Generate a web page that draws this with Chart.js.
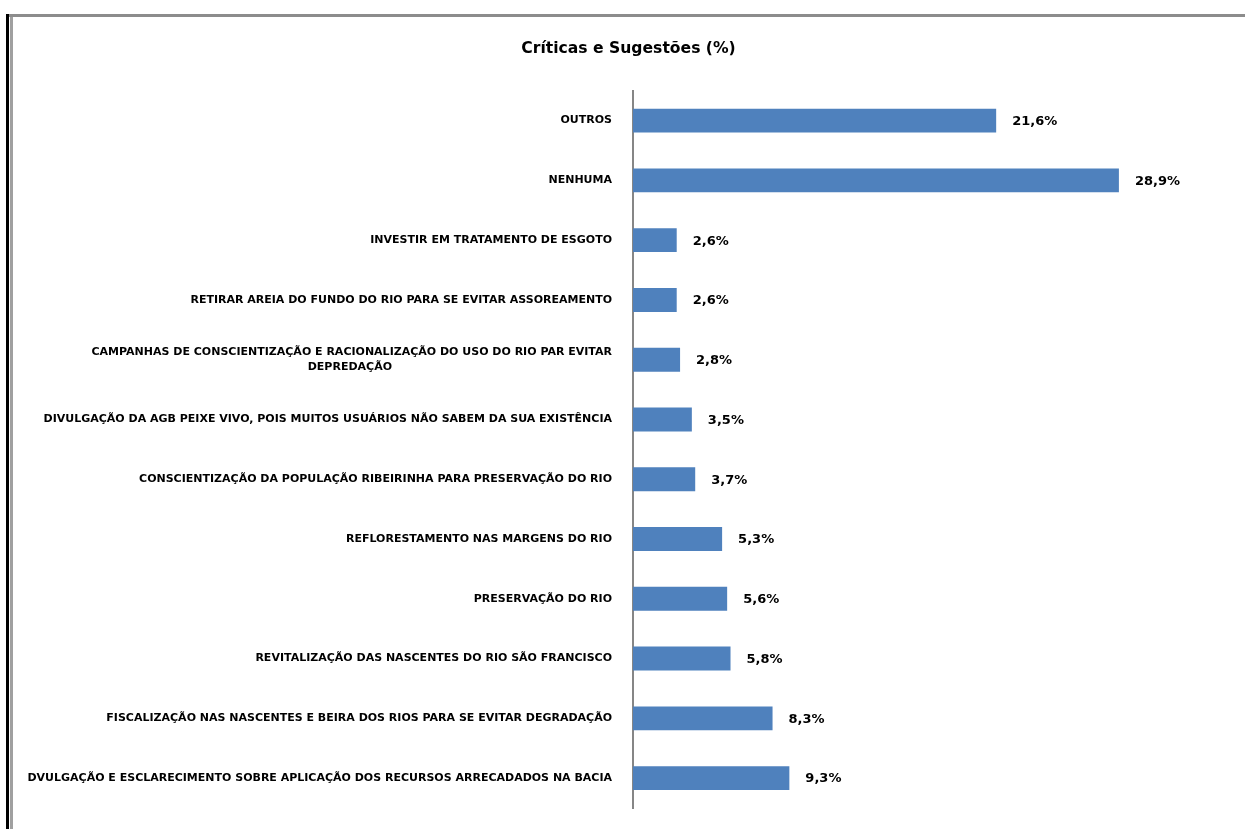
<!DOCTYPE html>
<html>
<head>
<meta charset="utf-8">
<script src="https://cdn.jsdelivr.net/npm/chart.js@4/dist/chart.umd.min.js"></script>
<style>
    html, body { margin: 0; padding: 0; background: #fff; }
    body { width: 1245px; height: 829px; position: relative; overflow: hidden; }
    #frameOuter { position: absolute; left: 6px; top: 14px; width: 1239px; height: 815px; border-left: 3px solid #000; }
    #frameInner { position: absolute; left: 0; top: 0; width: 1236px; height: 815px; border-top: 3px solid #8c8c8c; }
    #frameGray { position: absolute; left: 1px; top: 3px; width: 3px; height: 812px; background: #a0a0a0; }
    #wrap { position: absolute; left: 12px; top: 16px; width: 1233px; height: 813px; }
</style>
</head>
<body>
<div id="frameOuter"><div id="frameInner"></div><div id="frameGray"></div></div>
<div id="wrap"><canvas id="chart" width="1233" height="813"></canvas></div>
<script>
// categories top to bottom, as in the picture
var categorias = [
    'OUTROS',
    'NENHUMA',
    'INVESTIR EM TRATAMENTO DE ESGOTO',
    'RETIRAR AREIA DO FUNDO DO RIO PARA SE EVITAR ASSOREAMENTO',
    ['CAMPANHAS DE CONSCIENTIZAÇÃO E RACIONALIZAÇÃO DO USO DO RIO PAR EVITAR', 'DEPREDAÇÃO'],
    'DIVULGAÇÃO DA AGB PEIXE VIVO, POIS MUITOS USUÁRIOS NÃO SABEM DA SUA EXISTÊNCIA',
    'CONSCIENTIZAÇÃO DA POPULAÇÃO RIBEIRINHA PARA PRESERVAÇÃO DO RIO',
    'REFLORESTAMENTO NAS MARGENS DO RIO',
    'PRESERVAÇÃO DO RIO',
    'REVITALIZAÇÃO DAS NASCENTES DO RIO SÃO FRANCISCO',
    'FISCALIZAÇÃO NAS NASCENTES E BEIRA DOS RIOS PARA SE EVITAR DEGRADAÇÃO',
    'DVULGAÇÃO E ESCLARECIMENTO SOBRE APLICAÇÃO DOS RECURSOS ARRECADADOS NA BACIA'
];
var percentuais = [21.6, 28.9, 2.6, 2.6, 2.8, 3.5, 3.7, 5.3, 5.6, 5.8, 8.3, 9.3];

var fontFamily = '"DejaVu Sans", Arial, sans-serif';
var measureCtx = document.createElement('canvas').getContext('2d');
measureCtx.font = 'bold 11px ' + fontFamily;

// centre the shorter lines of a two line label under the longest one
function centreLines(lines) {
    var widths = lines.map(function (l) { return measureCtx.measureText(l).width; });
    var max = Math.max.apply(null, widths);
    var em = measureCtx.measureText('\u2003').width;
    return lines.map(function (l, i) {
        var n = Math.round((max - widths[i]) / 2 / em);
        return l + '\u2003'.repeat(n);
    });
}

var valueLabels = {
    id: 'valueLabels',
    afterDatasetsDraw: function (chart) {
        var ctx = chart.ctx;
        var meta = chart.getDatasetMeta(0);
        ctx.save();
        ctx.font = 'bold 13px ' + fontFamily;
        ctx.fillStyle = '#000';
        ctx.textAlign = 'left';
        ctx.textBaseline = 'middle';
        meta.data.forEach(function (bar, i) {
            var txt = percentuais[i].toFixed(1).replace('.', ',') + '%';
            ctx.fillText(txt, bar.x + 16, bar.y + 1);
        });
        ctx.restore();
    }
};

new Chart(document.getElementById('chart'), {
    type: 'bar',
    data: {
        labels: categorias,
        datasets: [{
            data: percentuais,
            backgroundColor: '#4F81BD',
            borderWidth: 0,
            barPercentage: 0.8,
            categoryPercentage: 0.5
        }]
    },
    options: {
        indexAxis: 'y',
        responsive: false,
        animation: false,
        devicePixelRatio: 1,
        layout: { padding: { top: 0, bottom: 21, right: 0, left: 0 } },
        plugins: {
            legend: { display: false },
            tooltip: { enabled: false },
            title: {
                display: true,
                text: 'Críticas e Sugestões (%)',
                color: '#000',
                font: { family: fontFamily, size: 15.6, weight: 'bold' },
                padding: { top: 24, bottom: 32 }
            }
        },
        scales: {
            x: {
                display: false,
                min: 0,
                max: 36.4
            },
            y: {
                grid: { display: false, drawTicks: false },
                border: { display: true, color: '#868686', width: 2 },
                afterFit: function (scale) {
                    scale.width = 621;
                    scale.paddingTop = 0;
                    scale.paddingBottom = 0;
                },
                ticks: {
                    autoSkip: false,
                    padding: 21,
                    color: '#000',
                    font: { family: fontFamily, size: 11, weight: 'bold', lineHeight: 1.35 },
                    callback: function (value) {
                        var l = categorias[value];
                        return Array.isArray(l) ? centreLines(l) : l;
                    }
                }
            }
        }
    },
    plugins: [valueLabels]
});
</script>
</body>
</html>
